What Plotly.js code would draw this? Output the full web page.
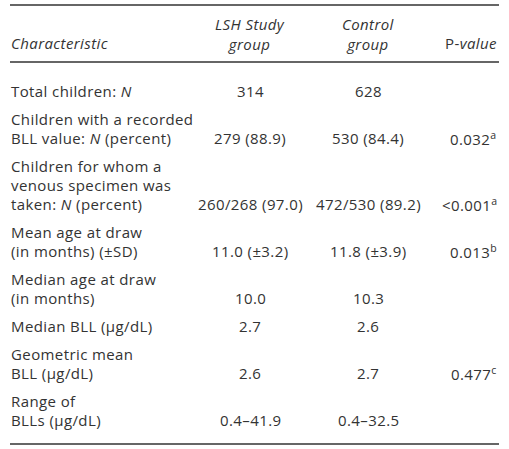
<!DOCTYPE html>
<html>
<head>
<meta charset="utf-8">
<script src="https://cdn.plot.ly/plotly-3.0.1.min.js"></script>
<style>
html,body{margin:0;padding:0;background:#fff;}
.annotation-text{letter-spacing:0.4px;}
</style>
</head>
<body>
<div id="chart" style="width:509px;height:449px;"></div>
<script>
// ---- table content ----
const headerCharacteristic = ["<i>Characteristic</i>"];
const headerLSH = ["<i>LSH Study</i>", "<i>group</i>"];
const headerControl = ["<i>Control</i>", "<i>group</i>"];
const headerP = ["P-<i>value</i>"];

const characteristics = [
  ["Total children: <i>N</i>"],
  ["Children with a recorded", "BLL value: <i>N</i> (percent)"],
  ["Children for whom a", "venous specimen was", "taken: <i>N</i> (percent)"],
  ["Mean age at draw", "(in months) (±SD)"],
  ["Median age at draw", "(in months)"],
  ["Median BLL (µg/dL)"],
  ["Geometric mean", "BLL (µg/dL)"],
  ["Range of", "BLLs (µg/dL)"]
];
const lshStudy = ["314", "279 (88.9)", "260/268 (97.0)", "11.0 (±3.2)", "10.0", "2.7", "2.6", "0.4–41.9"];
const control = ["628", "530 (84.4)", "472/530 (89.2)", "11.8 (±3.9)", "10.3", "2.6", "2.7", "0.4–32.5"];
const pValues = ["", "0.032<sup>a</sup>", "&lt;0.001<sup>a</sup>", "0.013<sup>b</sup>", "", "", "0.477<sup>c</sup>", ""];

// ---- layout parameters ----
const W = 509, H = 449;
const FONT = {family: "Open Sans, Lato, sans-serif", size: 15, color: "#333333"};
const xLeft = 10, xRight = 499;
const xLabel = 10, xLSH = 250, xControl = 368, xP = 498;
const lineH = 19, rowGap = 9;
const headerMid = 34, headerLine2 = 43;
const topRule = 5, headerRule = 62;
const firstRowY = 91;

const annotations = [];
function addText(x, y, text, anchor) {
  annotations.push({x: x, y: y, xref: "x", yref: "y", text: text, showarrow: false,
    xanchor: anchor, yanchor: "middle", font: FONT, borderpad: 0});
}

// header
addText(xLabel, headerLine2, headerCharacteristic[0], "left");
addText(xLSH, headerMid, headerLSH.join("<br>"), "center");
addText(xControl, headerMid, headerControl.join("<br>"), "center");
addText(xP, headerLine2, headerP[0], "right");

// body
let y = firstRowY;
let lastY = y;
characteristics.forEach((lines, i) => {
  lines.forEach((ln, j) => addText(xLabel, y + j * lineH, ln, "left"));
  const vy = y + (lines.length - 1) * lineH;
  addText(xLSH, vy, lshStudy[i], "center");
  addText(xControl, vy, control[i], "center");
  if (pValues[i]) addText(xP, vy, pValues[i], "right");
  lastY = vy;
  y = vy + lineH + rowGap;
});
const bottomRule = lastY + 24;

const ruleLine = {color: "#333333", width: 1.6};
const shapes = [topRule, headerRule, bottomRule].map(ry => ({
  type: "line", xref: "x", yref: "y", x0: xLeft, x1: xRight, y0: ry, y1: ry, line: ruleLine
}));

const layout = {
  width: W, height: H,
  margin: {l: 0, r: 0, t: 0, b: 0, pad: 0},
  paper_bgcolor: "#ffffff", plot_bgcolor: "#ffffff",
  xaxis: {range: [0, W], visible: false, fixedrange: true},
  yaxis: {range: [H, 0], visible: false, fixedrange: true},
  showlegend: false,
  annotations: annotations,
  shapes: shapes
};

Plotly.newPlot("chart", [], layout, {staticPlot: true, displayModeBar: false});
</script>
</body>
</html>
